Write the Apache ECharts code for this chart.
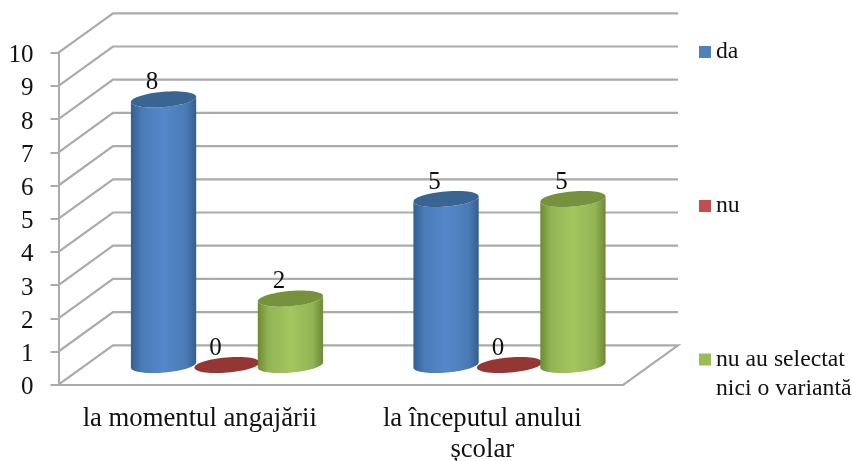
<!DOCTYPE html>
<html><head><meta charset="utf-8">
<style>html,body{margin:0;padding:0;background:#fff}#c{width:852px;height:461px}</style>
<script src="https://cdn.jsdelivr.net/npm/echarts@6/dist/echarts.min.js"></script>
</head><body><div id="c"></div>
<script>
const categories = ['la momentul angajării', 'la începutul anului\nșcolar'];
const seriesNames = ['da', 'nu', 'nu au selectat nici o variantă'];
const da = [8, 5];
const nu = [0, 0];
const niciUna = [2, 5];
const yTicks = [0, 1, 2, 3, 4, 5, 6, 7, 8, 9, 10];

const FONT = '"Liberation Serif", "Times New Roman", serif';
const DX = 54.5, DY = 39.4;
const GRID = '#ABABAB';
const looks = [
  {mark:'#4F81BD', edge:'#345F8E', body:'#4A7BB6', mid:'#5588CB', top:'#3A6492'},
  {mark:'#C0504D', edge:'#8A3230', body:'#C0504D', mid:'#C0504D', top:'#943634'},
  {mark:'#9BBB59', edge:'#6C8A35', body:'#93B454', mid:'#A3C65E', top:'#76923C'}
];

function ring(cx, cy, rx, ry, rot, from, to, n) {
  const pts = [];
  for (let i = 0; i <= n; i++) {
    const t = from + (to - from) * i / n;
    const x = rx * Math.cos(t), y = ry * Math.sin(t);
    pts.push([cx + x * Math.cos(rot) - y * Math.sin(rot), cy + x * Math.sin(rot) + y * Math.cos(rot)]);
  }
  return pts;
}

function cylinder(si) {
  return function (params, api) {
    const look = looks[si];
    const v = api.value(1);
    const band = api.size([1, 0])[0];
    const front = api.coord([api.value(0), v]);
    const base = api.coord([api.value(0), 0]);
    const cx = front[0] + DX / 2 + (si - 1) * band * 0.2246;
    const topY = front[1] - DY / 2, baseY = base[1] - DY / 2;
    const rx = band * 0.116, ry = 7.6, rot = -0.085;
    const children = [];
    if (v > 0) {
      const pts = ring(cx, baseY, rx, ry, rot, 0, Math.PI, 40)
        .concat(ring(cx, topY, rx, ry, rot, Math.PI, 0, 40));
      children.push({type:'polygon', shape:{points:pts}, style:{
        fill:new echarts.graphic.LinearGradient(0,0,1,0,[
          {offset:0, color:look.edge},{offset:0.16, color:look.body},
          {offset:0.5, color:look.mid},
          {offset:0.84, color:look.body},{offset:1, color:look.edge}])
      }});
    }
    children.push({type:'polygon', shape:{points:ring(cx, topY, rx, ry, rot, 0, Math.PI*2, 60)}, style:{fill:look.top}});
    children.push({type:'text', style:{text:String(v), x:cx-11.5, y:topY-17, align:'center', verticalAlign:'middle',
      font:'25px '+FONT, fill:'#111'}});
    return {type:'group', children};
  };
}

function wall(params, api) {
  const cs = params.coordSys;
  const y = api.coord([0, api.value(1)])[1];
  const st = {stroke:GRID, lineWidth:2.2, fill:'none'};
  const pts = [[cs.x, y],[cs.x+DX, y-DY],[cs.x+cs.width+DX, y-DY]];
  if (api.value(1) === 0) pts.push([cs.x+cs.width, y]);
  return {type:'polyline', shape:{points:pts}, style:st};
}

const chart = echarts.init(document.getElementById('c'), null, {renderer:'canvas'});
const values = [da, nu, niciUna];
const legendBase = {orient:'vertical', left:699, padding:0, itemWidth:12, itemHeight:12, selectedMode:false,
  textStyle:{fontFamily:FONT, fontSize:23.7, color:'#111'}};
chart.setOption({
  animation:false,
  backgroundColor:'#fff',
  tooltip:{show:false},
  grid:{left:58.5, top:52.7, width:565, height:332, outerBoundsMode:'none'},
  legend:[
    Object.assign({}, legendBase, {top:40, data:[{name:seriesNames[0], icon:'rect'}]}),
    Object.assign({}, legendBase, {top:194, data:[{name:seriesNames[1], icon:'rect'}]}),
    Object.assign({}, legendBase, {top:345, itemHeight:41,
      data:[{name:seriesNames[2], icon:'path://M0,0H12V12H0Z M0,41L0,41'}],
      formatter:()=>'nu au selectat\nnici o variantă',
      textStyle:{fontFamily:FONT, fontSize:23.7, color:'#111', lineHeight:29}})
  ],
  xAxis:{type:'category', data:categories,
    axisLine:{lineStyle:{color:GRID, width:2}},
    axisTick:{length:6, lineStyle:{color:GRID, width:2}},
    axisLabel:{fontFamily:FONT, fontSize:26.7, color:'#111', margin:19, lineHeight:31, interval:0}},
  yAxis:{type:'value', min:0, max:10, interval:1,
    splitLine:{show:false},
    axisLine:{show:true, lineStyle:{color:GRID, width:2}},
    axisTick:{show:true, length:8, lineStyle:{color:GRID, width:2}},
    axisLabel:{color:'#111', margin:25, formatter:'{a|{value}}',
      rich:{a:{fontFamily:FONT, fontSize:25, color:'#111', padding:[6,0,0,0]}}}},
  series:[
    {type:'custom', name:'perete', silent:true, renderItem:wall, encode:{x:0,y:1}, z:1,
     data:yTicks.map(t=>[0,t])}
  ].concat(values.map((vals,si)=>({
    type:'custom', name:seriesNames[si], renderItem:cylinder(si), encode:{x:0,y:1}, z:2+si,
    itemStyle:{color:looks[si].mark},
    data:vals.map((v,i)=>[i,v])
  })))
});
</script></body></html>
